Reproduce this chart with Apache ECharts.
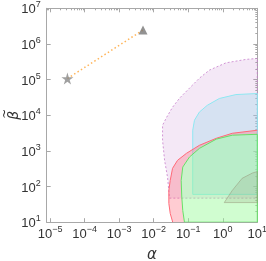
<!DOCTYPE html>
<html><head><meta charset="utf-8">
<script src="https://cdn.jsdelivr.net/npm/echarts@6/dist/echarts.min.js"></script>
<style>html,body{margin:0;padding:0;background:#fff}#c{width:266px;height:261px}</style>
</head><body><div id="c"></div>
<script>
// All coordinates are [log10(alpha), log10(beta)]
const xTickExponents = [-5, -4, -3, -2, -1, 0, 1];
const yTickExponents = [1, 2, 3, 4, 5, 6, 7];
const xRange = [-5.1, 1];
const yRange = [1, 7];

const starPoint = [-4.5, 5.03];
const trianglePoint = [-2.31, 6.39];

const purpleRegion = [[1, 5.594], [0.669, 5.566], [0.092, 5.47], [-0.389, 5.265], [-0.677, 5.04],
  [-0.965, 4.76], [-1.254, 4.478], [-1.455, 4.225], [-1.628, 3.94], [-1.744, 3.72], [-1.744, 3.30],
  [-1.686, 2.74], [-1.60, 2.26], [-1.542, 1.675], [1, 1.675]];
const blueRegion = [[1, 4.61], [0.38, 4.58], [-0.1, 4.47], [-0.447, 4.28], [-0.677, 4.09],
  [-0.82, 3.86], [-0.87, 3.58], [-0.87, 1.78], [1, 1.78]];
const redOuter = [[1, 3.58], [0.274, 3.494], [-0.187, 3.354], [-0.677, 3.157], [-1.052, 2.932],
  [-1.311, 2.735], [-1.455, 2.51], [-1.522, 2.173], [-1.562, 1.892], [-1.562, 1.526],
  [-1.522, 1.245], [-1.45, 1.0]];
const greenInner = [[1, 3.466], [0.274, 3.44], [-0.187, 3.33], [-0.677, 3.07], [-0.965, 2.828],
  [-1.159, 2.547], [-1.205, 2.173], [-1.187, 1.703], [-1.159, 1.33], [-1.11, 1.0]];
const grayRegion = [[0.043, 1.55], [0.274, 1.89], [0.56, 2.23], [0.86, 2.38], [1, 2.42], [1, 1.55]];

const xMinor = [], yMinor = [];
for (let n = -6; n <= 1; n++) for (let k = 2; k <= 9; k++) {
  const v = n + Math.log10(k); if (v > xRange[0] && v < xRange[1]) xMinor.push(v);
}
for (let n = 1; n <= 6; n++) for (let k = 2; k <= 9; k++) yMinor.push(n + Math.log10(k));

const redBand = redOuter.concat(greenInner.slice().reverse());
const greenRegion = greenInner.concat([[1, 1.0]]);

function regionSeries(pts, fill, stroke, dash, z, outline, width) {
  return {
    type: 'custom', coordinateSystem: 'cartesian2d', xAxisIndex: 0, yAxisIndex: 0,
    z: z, silent: true, clip: true, data: pts,
    renderItem: function (params, api) {
      if (params.dataIndex !== 0) return null;
      const points = pts.map(p => api.coord(p));
      const children = [{ type: 'polygon', shape: { points: points },
        style: { fill: fill, stroke: outline ? null : stroke, lineWidth: width || 1, lineDash: dash } }];
      if (outline) {
        children.push({ type: 'polyline', shape: { points: outline.map(p => api.coord(p)) },
          style: { fill: null, stroke: stroke, lineWidth: 1 } });
      }
      return { type: 'group', children: children };
    }
  };
}

const fmt = v => String(v).replace('-', '\u2212');
const labelRich = {
  b: { fontSize: 13, lineHeight: 16, verticalAlign: 'bottom', color: '#333', fontFamily: 'Liberation Sans' },
  s: { fontSize: 9, lineHeight: 10, verticalAlign: 'top', color: '#333', fontFamily: 'Liberation Sans' }
};
const axisColor = '#a8a8a8';

function sideAxis(pos, min, max, vals, len, showLine) {
  return {
    type: 'value', position: pos, min: min, max: max,
    axisLine: { show: showLine, onZero: false, lineStyle: { color: axisColor } },
    axisTick: { show: true, inside: true, length: len, customValues: vals, lineStyle: { color: axisColor } },
    axisLabel: { show: false }, splitLine: { show: false }
  };
}

const option = {
  animation: false,
  grid: { left: 46.7, right: 8.7, top: 8.3, bottom: 38.8, containLabel: false, outerBoundsMode: 'none' },
  xAxis: [
    {
      type: 'value', position: 'bottom', min: xRange[0], max: xRange[1],
      axisLine: { show: true, onZero: false, lineStyle: { color: axisColor } },
      axisTick: { show: true, inside: true, length: 4, customValues: xTickExponents, lineStyle: { color: axisColor } },
      axisLabel: { customValues: xTickExponents, margin: 3, formatter: v => '{b|10}{s|' + fmt(v) + '}', rich: labelRich },
      splitLine: { show: false },
      name: '\u03b1', nameLocation: 'middle', nameGap: 25, nameMoveOverlap: false,
      nameTextStyle: { fontSize: 15, fontStyle: 'italic', color: '#333', fontFamily: 'DejaVu Sans' }
    },
    sideAxis('top', xRange[0], xRange[1], xTickExponents, 4, true),
    sideAxis('top', xRange[0], xRange[1], xMinor, 2, false)
  ],
  yAxis: [
    {
      type: 'value', position: 'left', min: yRange[0], max: yRange[1], interval: 1,
      axisLine: { show: true, onZero: false, lineStyle: { color: axisColor } },
      axisTick: { show: true, inside: true, length: 4, lineStyle: { color: axisColor } },
      axisLabel: { margin: 6, formatter: v => '{b|10}{s|' + fmt(v) + '}', rich: labelRich },
      splitLine: { show: false },
      name: '{t|~}\n{g|\u03b2}', nameLocation: 'middle', nameGap: 26, nameRotate: 90, nameMoveOverlap: false,
      nameTextStyle: {
        color: '#333',
        rich: {
          t: { fontSize: 12, lineHeight: 6, color: '#333', fontFamily: 'DejaVu Sans', padding: [0, 0, 0, 3] },
          g: { fontSize: 14, lineHeight: 13, color: '#333', fontStyle: 'italic', fontFamily: 'DejaVu Sans' }
        }
      }
    },
    sideAxis('right', yRange[0], yRange[1], yTickExponents, 4, true),
    sideAxis('right', yRange[0], yRange[1], yMinor, 2, false)
  ],
  series: [
    regionSeries(purpleRegion, 'rgba(190,120,200,0.17)', '#c77dcc', [2, 2], 1, null, 0.8),
    regionSeries(blueRegion, 'rgba(160,215,235,0.35)', '#8ee8f2', null, 2),
    regionSeries(redBand, 'rgba(255,110,125,0.35)', '#ff6a78', null, 3, redOuter),
    regionSeries(greenRegion, 'rgba(150,250,150,0.45)', '#66e066', null, 4),
    regionSeries(grayRegion, 'rgba(140,140,110,0.18)', 'rgba(150,150,120,0.5)', null, 5),
    {
      type: 'line', data: [starPoint, trianglePoint], symbol: 'none', z: 6, silent: true,
      lineStyle: { type: [1.5, 2.5], color: '#ffb55a', width: 1.5 }
    },
    {
      type: 'scatter', data: [starPoint], z: 7, silent: true, symbolSize: 12,
      symbol: 'path://M50,0 L61,35 L98,35 L68,57 L79,91 L50,70 L21,91 L32,57 L2,35 L39,35 Z',
      itemStyle: { color: '#888' }
    },
    {
      type: 'scatter', data: [trianglePoint], z: 7, silent: true, symbolSize: 9,
      symbol: 'triangle', itemStyle: { color: '#777' }
    }
  ]
};
echarts.init(document.getElementById('c')).setOption(option);
</script></body></html>
